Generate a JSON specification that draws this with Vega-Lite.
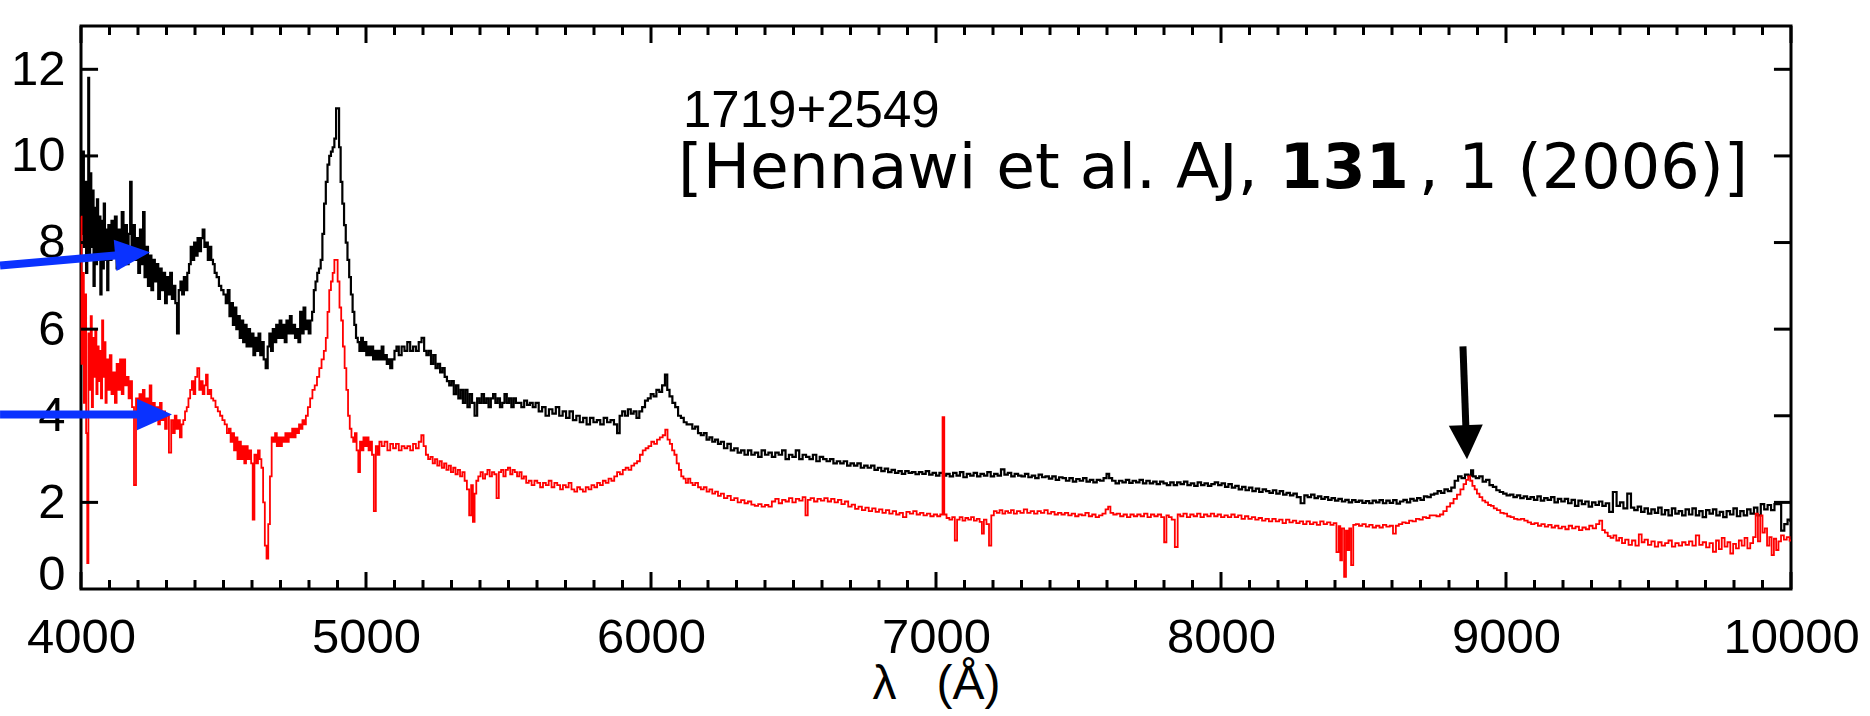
{
"$schema": "https://vega.github.io/schema/vega-lite/v6.json",
"width": 1710,
"height": 563,
"autosize": {"type": "none"},
"padding": {"left": 81, "top": 26, "right": 79, "bottom": 127},
"background": "white",
"config": {
  "view": {"stroke": "#000", "strokeWidth": 3},
  "axis": {"grid": false, "domain": false, "labelColor": "#000", "titleColor": "#000"}
},
"datasets": {
"xmajor": [{"lambda":4000},{"lambda":5000},{"lambda":6000},{"lambda":7000},{"lambda":8000},{"lambda":9000},{"lambda":10000}],
"xminor": [{"lambda":4100},{"lambda":4200},{"lambda":4300},{"lambda":4400},{"lambda":4500},{"lambda":4600},{"lambda":4700},{"lambda":4800},{"lambda":4900},{"lambda":5100},{"lambda":5200},{"lambda":5300},{"lambda":5400},{"lambda":5500},{"lambda":5600},{"lambda":5700},{"lambda":5800},{"lambda":5900},{"lambda":6100},{"lambda":6200},{"lambda":6300},{"lambda":6400},{"lambda":6500},{"lambda":6600},{"lambda":6700},{"lambda":6800},{"lambda":6900},{"lambda":7100},{"lambda":7200},{"lambda":7300},{"lambda":7400},{"lambda":7500},{"lambda":7600},{"lambda":7700},{"lambda":7800},{"lambda":7900},{"lambda":8100},{"lambda":8200},{"lambda":8300},{"lambda":8400},{"lambda":8500},{"lambda":8600},{"lambda":8700},{"lambda":8800},{"lambda":8900},{"lambda":9100},{"lambda":9200},{"lambda":9300},{"lambda":9400},{"lambda":9500},{"lambda":9600},{"lambda":9700},{"lambda":9800},{"lambda":9900}],
"ymajor": [{"flux":2},{"flux":4},{"flux":6},{"flux":8},{"flux":10},{"flux":12}],
"black": [
{"lambda":4000,"flux":9.8},{"lambda":4004,"flux":8.2},{"lambda":4008,"flux":10.1},{"lambda":4012,"flux":7.9},{"lambda":4016,"flux":9.4},{"lambda":4020,"flux":7.3},{"lambda":4024,"flux":9.0},{"lambda":4027,"flux":11.8},{"lambda":4030,"flux":7.6},{"lambda":4034,"flux":9.6},{"lambda":4038,"flux":7.9},{"lambda":4042,"flux":9.2},{"lambda":4046,"flux":7.0},{"lambda":4050,"flux":8.8},{"lambda":4054,"flux":7.5},{"lambda":4058,"flux":9.0},{"lambda":4062,"flux":7.7},{"lambda":4066,"flux":8.6},{"lambda":4070,"flux":6.8},{"lambda":4074,"flux":8.5},{"lambda":4078,"flux":7.4},{"lambda":4082,"flux":8.9},{"lambda":4086,"flux":7.6},{"lambda":4090,"flux":8.3},{"lambda":4094,"flux":6.9},{"lambda":4098,"flux":8.4},
{"lambda":4104,"flux":7.6},{"lambda":4110,"flux":8.5},{"lambda":4116,"flux":7.8},{"lambda":4122,"flux":8.6},{"lambda":4128,"flux":7.4},{"lambda":4134,"flux":8.3},{"lambda":4140,"flux":7.7},{"lambda":4146,"flux":8.7},{"lambda":4152,"flux":7.9},{"lambda":4158,"flux":8.4},{"lambda":4164,"flux":7.5},{"lambda":4170,"flux":8.2},{"lambda":4175,"flux":9.4},{"lambda":4180,"flux":7.8},{"lambda":4186,"flux":8.4},{"lambda":4192,"flux":7.6},{"lambda":4198,"flux":8.1},{"lambda":4204,"flux":7.3},{"lambda":4210,"flux":8.3},{"lambda":4216,"flux":7.5},{"lambda":4220,"flux":8.7},{"lambda":4226,"flux":7.2},{"lambda":4232,"flux":7.9},{"lambda":4238,"flux":7.0},{"lambda":4244,"flux":7.7},{"lambda":4250,"flux":6.9},{"lambda":4256,"flux":7.6},{"lambda":4262,"flux":7.1},{"lambda":4268,"flux":7.5},{"lambda":4274,"flux":6.7},{"lambda":4280,"flux":7.4},{"lambda":4286,"flux":6.9},{"lambda":4292,"flux":7.3},{"lambda":4298,"flux":6.6},{"lambda":4304,"flux":7.2},{"lambda":4310,"flux":6.8},{"lambda":4316,"flux":7.3},{"lambda":4322,"flux":6.7},{"lambda":4328,"flux":7.0},{"lambda":4334,"flux":6.6},{"lambda":4340,"flux":5.9},{"lambda":4346,"flux":6.9},{"lambda":4352,"flux":7.1},{"lambda":4358,"flux":6.8},{"lambda":4364,"flux":7.2},{"lambda":4370,"flux":6.9},{"lambda":4376,"flux":7.3},
{"lambda":4382,"flux":7.5},{"lambda":4388,"flux":7.9},{"lambda":4394,"flux":7.6},{"lambda":4400,"flux":8.0},{"lambda":4406,"flux":7.7},{"lambda":4412,"flux":8.1},{"lambda":4418,"flux":7.8},{"lambda":4424,"flux":8.1},{"lambda":4430,"flux":8.3},{"lambda":4436,"flux":7.9},{"lambda":4442,"flux":8.0},{"lambda":4448,"flux":7.6},{"lambda":4454,"flux":7.9},{"lambda":4460,"flux":7.6},{"lambda":4466,"flux":7.5},{"lambda":4472,"flux":7.3},{"lambda":4480,"flux":7.2},{"lambda":4488,"flux":7.0},{"lambda":4496,"flux":6.9},{"lambda":4504,"flux":6.8},{"lambda":4512,"flux":6.6},{"lambda":4518,"flux":6.9},{"lambda":4524,"flux":6.3},{"lambda":4530,"flux":6.6},{"lambda":4536,"flux":6.1},{"lambda":4542,"flux":6.5},{"lambda":4548,"flux":6.0},{"lambda":4554,"flux":6.3},{"lambda":4560,"flux":5.8},{"lambda":4566,"flux":6.2},{"lambda":4572,"flux":5.7},{"lambda":4578,"flux":6.1},{"lambda":4584,"flux":5.6},{"lambda":4590,"flux":6.0},{"lambda":4596,"flux":5.6},{"lambda":4602,"flux":5.9},{"lambda":4608,"flux":5.4},{"lambda":4614,"flux":5.8},{"lambda":4620,"flux":5.5},{"lambda":4626,"flux":5.9},{"lambda":4632,"flux":5.4},{"lambda":4638,"flux":5.7},{"lambda":4644,"flux":5.3},{"lambda":4652,"flux":5.1},{"lambda":4658,"flux":5.6},{"lambda":4664,"flux":5.9},{"lambda":4670,"flux":5.5},{"lambda":4676,"flux":6.0},{"lambda":4682,"flux":5.7},{"lambda":4688,"flux":6.1},{"lambda":4694,"flux":5.8},{"lambda":4700,"flux":6.2},{"lambda":4706,"flux":5.8},{"lambda":4712,"flux":6.1},{"lambda":4718,"flux":5.7},{"lambda":4724,"flux":6.2},{"lambda":4730,"flux":5.9},{"lambda":4736,"flux":6.3},{"lambda":4742,"flux":5.9},{"lambda":4748,"flux":6.1},{"lambda":4754,"flux":5.8},{"lambda":4760,"flux":6.0},{"lambda":4766,"flux":5.7},{"lambda":4772,"flux":6.4},{"lambda":4778,"flux":5.9},{"lambda":4784,"flux":6.5},{"lambda":4790,"flux":6.0},{"lambda":4796,"flux":6.2},{"lambda":4802,"flux":5.9},{"lambda":4808,"flux":6.2},{"lambda":4814,"flux":6.4},{"lambda":4820,"flux":6.9},{"lambda":4826,"flux":7.1},{"lambda":4832,"flux":7.3},{"lambda":4838,"flux":7.4},{"lambda":4844,"flux":7.6},{"lambda":4850,"flux":8.2},{"lambda":4856,"flux":8.9},{"lambda":4862,"flux":9.4},{"lambda":4868,"flux":9.8},{"lambda":4874,"flux":10.0},{"lambda":4880,"flux":10.1},{"lambda":4886,"flux":10.2},{"lambda":4892,"flux":10.4},{"lambda":4898,"flux":11.1},{"lambda":4903,"flux":11.1},{"lambda":4908,"flux":10.2},{"lambda":4914,"flux":9.4},{"lambda":4920,"flux":8.9},{"lambda":4926,"flux":8.4},{"lambda":4932,"flux":8.0},{"lambda":4938,"flux":7.6},{"lambda":4944,"flux":7.2},{"lambda":4950,"flux":6.8},{"lambda":4956,"flux":6.4},{"lambda":4962,"flux":6.1},{"lambda":4968,"flux":5.8},{"lambda":4974,"flux":5.7},{"lambda":4980,"flux":5.5},{"lambda":4986,"flux":5.8},{"lambda":4992,"flux":5.5},{"lambda":4998,"flux":5.7},{"lambda":5004,"flux":5.4},{"lambda":5010,"flux":5.6},{"lambda":5016,"flux":5.4},{"lambda":5022,"flux":5.6},{"lambda":5028,"flux":5.3},{"lambda":5034,"flux":5.5},{"lambda":5040,"flux":5.3},{"lambda":5046,"flux":5.5},{"lambda":5052,"flux":5.3},{"lambda":5058,"flux":5.6},{"lambda":5064,"flux":5.3},{"lambda":5070,"flux":5.4},{"lambda":5076,"flux":5.2},{"lambda":5082,"flux":5.3},{"lambda":5088,"flux":5.1},{"lambda":5096,"flux":5.3},
{"lambda":5104,"flux":5.5},{"lambda":5110,"flux":5.6},{"lambda":5120,"flux":5.4},{"lambda":5130,"flux":5.6},{"lambda":5140,"flux":5.5},{"lambda":5150,"flux":5.7},{"lambda":5160,"flux":5.5},{"lambda":5170,"flux":5.6},{"lambda":5180,"flux":5.5},{"lambda":5190,"flux":5.7},{"lambda":5200,"flux":5.8},{"lambda":5208,"flux":5.5},{"lambda":5216,"flux":5.4},{"lambda":5224,"flux":5.5},{"lambda":5232,"flux":5.2},{"lambda":5240,"flux":5.4},{"lambda":5248,"flux":5.1},{"lambda":5256,"flux":5.2},{"lambda":5264,"flux":5.0},{"lambda":5272,"flux":5.1},{"lambda":5280,"flux":4.9},{"lambda":5288,"flux":4.8},{"lambda":5296,"flux":4.7},{"lambda":5304,"flux":4.8},{"lambda":5312,"flux":4.5},{"lambda":5320,"flux":4.7},{"lambda":5328,"flux":4.4},{"lambda":5336,"flux":4.6},{"lambda":5344,"flux":4.3},{"lambda":5352,"flux":4.6},{"lambda":5360,"flux":4.2},{"lambda":5368,"flux":4.5},{"lambda":5376,"flux":4.3},{"lambda":5386,"flux":4.0},{"lambda":5394,"flux":4.4},{"lambda":5402,"flux":4.3},{"lambda":5410,"flux":4.5},{"lambda":5418,"flux":4.3},{"lambda":5426,"flux":4.4},{"lambda":5434,"flux":4.2},{"lambda":5442,"flux":4.4},{"lambda":5450,"flux":4.5},{"lambda":5458,"flux":4.3},{"lambda":5466,"flux":4.4},{"lambda":5474,"flux":4.2},{"lambda":5482,"flux":4.3},{"lambda":5490,"flux":4.5},{"lambda":5498,"flux":4.3},{"lambda":5506,"flux":4.4},{"lambda":5514,"flux":4.2},{"lambda":5522,"flux":4.4},{"lambda":5530,"flux":4.3},{"lambda":5540,"flux":4.3},{"lambda":5550,"flux":4.2},{"lambda":5560,"flux":4.35},{"lambda":5570,"flux":4.25},{"lambda":5580,"flux":4.3},{"lambda":5590,"flux":4.2},{"lambda":5600,"flux":4.3},{"lambda":5612,"flux":4.1},{"lambda":5624,"flux":4.2},{"lambda":5636,"flux":4.0},{"lambda":5648,"flux":4.15},{"lambda":5660,"flux":4.05},{"lambda":5672,"flux":4.2},{"lambda":5684,"flux":4.0},{"lambda":5696,"flux":4.1},{"lambda":5708,"flux":3.95},{"lambda":5720,"flux":4.1},{"lambda":5732,"flux":3.9},{"lambda":5744,"flux":4.0},{"lambda":5756,"flux":3.85},{"lambda":5768,"flux":3.95},{"lambda":5780,"flux":3.8},{"lambda":5792,"flux":3.95},{"lambda":5804,"flux":3.85},{"lambda":5816,"flux":3.9},{"lambda":5828,"flux":3.8},{"lambda":5840,"flux":3.95},{"lambda":5852,"flux":3.85},{"lambda":5864,"flux":3.9},{"lambda":5876,"flux":3.8},{"lambda":5886,"flux":3.6},{"lambda":5894,"flux":4.0},{"lambda":5904,"flux":4.1},{"lambda":5914,"flux":4.0},{"lambda":5924,"flux":4.15},{"lambda":5934,"flux":4.05},{"lambda":5944,"flux":4.1},{"lambda":5954,"flux":3.95},{"lambda":5964,"flux":4.1},{"lambda":5974,"flux":4.2},{"lambda":5984,"flux":4.35},{"lambda":5994,"flux":4.4},{"lambda":6004,"flux":4.5},{"lambda":6014,"flux":4.45},{"lambda":6024,"flux":4.6},{"lambda":6034,"flux":4.55},{"lambda":6044,"flux":4.7},{"lambda":6054,"flux":4.95},{"lambda":6060,"flux":4.6},{"lambda":6070,"flux":4.45},{"lambda":6080,"flux":4.3},{"lambda":6090,"flux":4.2},{"lambda":6100,"flux":4.0},{"lambda":6110,"flux":3.95},{"lambda":6120,"flux":3.85},{"lambda":6130,"flux":3.8},{"lambda":6140,"flux":3.8},
{"lambda":6150,"flux":3.7},{"lambda":6160,"flux":3.75},{"lambda":6170,"flux":3.6},{"lambda":6180,"flux":3.55},{"lambda":6190,"flux":3.6},{"lambda":6200,"flux":3.45},{"lambda":6210,"flux":3.5},{"lambda":6220,"flux":3.4},{"lambda":6230,"flux":3.45},{"lambda":6240,"flux":3.35},{"lambda":6250,"flux":3.4},{"lambda":6262,"flux":3.25},{"lambda":6274,"flux":3.35},{"lambda":6286,"flux":3.2},{"lambda":6298,"flux":3.25},{"lambda":6310,"flux":3.15},{"lambda":6322,"flux":3.2},{"lambda":6334,"flux":3.1},{"lambda":6346,"flux":3.2},{"lambda":6358,"flux":3.1},{"lambda":6370,"flux":3.15},{"lambda":6382,"flux":3.05},{"lambda":6394,"flux":3.2},{"lambda":6406,"flux":3.1},{"lambda":6418,"flux":3.15},{"lambda":6430,"flux":3.05},{"lambda":6442,"flux":3.15},{"lambda":6454,"flux":3.1},{"lambda":6466,"flux":3.2},{"lambda":6478,"flux":3.0},{"lambda":6490,"flux":3.1},{"lambda":6502,"flux":3.05},{"lambda":6514,"flux":3.2},{"lambda":6526,"flux":3.0},{"lambda":6538,"flux":3.1},{"lambda":6550,"flux":3.05},{"lambda":6562,"flux":3.0},{"lambda":6574,"flux":3.1},{"lambda":6586,"flux":2.95},{"lambda":6598,"flux":3.05},{"lambda":6610,"flux":3.0},{"lambda":6622,"flux":2.95},{"lambda":6634,"flux":3.0},{"lambda":6646,"flux":2.9},{"lambda":6658,"flux":2.95},{"lambda":6670,"flux":2.9},{"lambda":6682,"flux":2.95},{"lambda":6694,"flux":2.85},{"lambda":6706,"flux":2.9},{"lambda":6718,"flux":2.85},{"lambda":6730,"flux":2.9},{"lambda":6742,"flux":2.8},{"lambda":6754,"flux":2.85},{"lambda":6766,"flux":2.8},{"lambda":6778,"flux":2.85},{"lambda":6790,"flux":2.75},{"lambda":6802,"flux":2.8},{"lambda":6814,"flux":2.72},{"lambda":6826,"flux":2.78},{"lambda":6838,"flux":2.7},{"lambda":6850,"flux":2.75},{"lambda":6862,"flux":2.68},{"lambda":6874,"flux":2.72},{"lambda":6886,"flux":2.66},{"lambda":6898,"flux":2.72},{"lambda":6910,"flux":2.68},{"lambda":6922,"flux":2.7},{"lambda":6934,"flux":2.65},{"lambda":6946,"flux":2.7},{"lambda":6958,"flux":2.66},{"lambda":6970,"flux":2.72},{"lambda":6982,"flux":2.64},{"lambda":6994,"flux":2.68},{"lambda":7006,"flux":2.62},{"lambda":7018,"flux":2.68},{"lambda":7030,"flux":2.62},{"lambda":7042,"flux":2.66},{"lambda":7054,"flux":2.6},{"lambda":7066,"flux":2.68},{"lambda":7078,"flux":2.62},{"lambda":7090,"flux":2.7},{"lambda":7102,"flux":2.58},{"lambda":7114,"flux":2.66},{"lambda":7126,"flux":2.62},{"lambda":7138,"flux":2.68},{"lambda":7150,"flux":2.6},{"lambda":7162,"flux":2.66},{"lambda":7174,"flux":2.62},{"lambda":7186,"flux":2.7},{"lambda":7198,"flux":2.6},{"lambda":7210,"flux":2.66},{"lambda":7222,"flux":2.62},{"lambda":7234,"flux":2.76},{"lambda":7246,"flux":2.64},{"lambda":7258,"flux":2.68},{"lambda":7270,"flux":2.6},{"lambda":7282,"flux":2.66},{"lambda":7294,"flux":2.62},{"lambda":7306,"flux":2.6},{"lambda":7318,"flux":2.66},{"lambda":7330,"flux":2.58},{"lambda":7342,"flux":2.62},{"lambda":7354,"flux":2.56},{"lambda":7366,"flux":2.64},{"lambda":7378,"flux":2.58},{"lambda":7390,"flux":2.6},{"lambda":7402,"flux":2.55},{"lambda":7414,"flux":2.6},{"lambda":7426,"flux":2.52},{"lambda":7438,"flux":2.58},
{"lambda":7450,"flux":2.56},{"lambda":7462,"flux":2.5},{"lambda":7474,"flux":2.56},{"lambda":7486,"flux":2.48},{"lambda":7498,"flux":2.54},{"lambda":7510,"flux":2.5},{"lambda":7522,"flux":2.56},{"lambda":7534,"flux":2.48},{"lambda":7546,"flux":2.52},{"lambda":7558,"flux":2.46},{"lambda":7570,"flux":2.52},{"lambda":7582,"flux":2.5},{"lambda":7594,"flux":2.56},{"lambda":7603,"flux":2.66},{"lambda":7612,"flux":2.56},{"lambda":7624,"flux":2.5},{"lambda":7636,"flux":2.44},{"lambda":7648,"flux":2.5},{"lambda":7660,"flux":2.46},{"lambda":7672,"flux":2.52},{"lambda":7684,"flux":2.45},{"lambda":7696,"flux":2.5},{"lambda":7708,"flux":2.46},{"lambda":7720,"flux":2.52},{"lambda":7732,"flux":2.44},{"lambda":7744,"flux":2.5},{"lambda":7756,"flux":2.44},{"lambda":7768,"flux":2.48},{"lambda":7780,"flux":2.42},{"lambda":7792,"flux":2.48},{"lambda":7804,"flux":2.44},{"lambda":7816,"flux":2.4},{"lambda":7828,"flux":2.46},{"lambda":7840,"flux":2.4},{"lambda":7852,"flux":2.46},{"lambda":7864,"flux":2.42},{"lambda":7876,"flux":2.48},{"lambda":7888,"flux":2.4},{"lambda":7900,"flux":2.44},{"lambda":7912,"flux":2.38},{"lambda":7924,"flux":2.46},{"lambda":7936,"flux":2.4},{"lambda":7948,"flux":2.44},{"lambda":7960,"flux":2.38},{"lambda":7972,"flux":2.42},{"lambda":7984,"flux":2.46},{"lambda":7996,"flux":2.4},{"lambda":8008,"flux":2.44},{"lambda":8020,"flux":2.36},{"lambda":8032,"flux":2.42},{"lambda":8044,"flux":2.34},{"lambda":8056,"flux":2.38},{"lambda":8068,"flux":2.3},{"lambda":8080,"flux":2.36},{"lambda":8092,"flux":2.28},{"lambda":8104,"flux":2.34},{"lambda":8116,"flux":2.26},{"lambda":8128,"flux":2.32},{"lambda":8140,"flux":2.24},{"lambda":8152,"flux":2.3},{"lambda":8164,"flux":2.26},{"lambda":8176,"flux":2.22},{"lambda":8188,"flux":2.28},{"lambda":8200,"flux":2.2},{"lambda":8212,"flux":2.26},{"lambda":8224,"flux":2.18},{"lambda":8236,"flux":2.22},{"lambda":8248,"flux":2.16},{"lambda":8260,"flux":2.2},{"lambda":8272,"flux":2.12},{"lambda":8287,"flux":1.98},{"lambda":8298,"flux":2.16},{"lambda":8310,"flux":2.12},{"lambda":8322,"flux":2.18},{"lambda":8334,"flux":2.1},{"lambda":8346,"flux":2.14},{"lambda":8358,"flux":2.08},{"lambda":8370,"flux":2.12},{"lambda":8382,"flux":2.06},{"lambda":8394,"flux":2.1},{"lambda":8406,"flux":2.04},{"lambda":8418,"flux":2.08},{"lambda":8430,"flux":2.02},{"lambda":8442,"flux":2.06},{"lambda":8454,"flux":2.0},{"lambda":8466,"flux":2.05},{"lambda":8478,"flux":2.01},{"lambda":8490,"flux":2.04},{"lambda":8502,"flux":1.99},{"lambda":8514,"flux":2.03},{"lambda":8526,"flux":1.98},{"lambda":8538,"flux":2.04},{"lambda":8550,"flux":2.0},{"lambda":8562,"flux":2.05},{"lambda":8574,"flux":1.98},{"lambda":8586,"flux":2.04},{"lambda":8598,"flux":1.99},{"lambda":8610,"flux":2.05},{"lambda":8622,"flux":1.97},{"lambda":8634,"flux":2.02},{"lambda":8646,"flux":2.06},{"lambda":8658,"flux":2.0},{"lambda":8670,"flux":2.08},{"lambda":8682,"flux":2.04},{"lambda":8694,"flux":2.1},{"lambda":8706,"flux":2.06},{"lambda":8718,"flux":2.14},{"lambda":8730,"flux":2.12},{"lambda":8742,"flux":2.18},
{"lambda":8754,"flux":2.2},{"lambda":8766,"flux":2.26},{"lambda":8778,"flux":2.22},{"lambda":8790,"flux":2.3},{"lambda":8802,"flux":2.26},{"lambda":8814,"flux":2.34},{"lambda":8826,"flux":2.5},{"lambda":8838,"flux":2.6},{"lambda":8850,"flux":2.56},{"lambda":8862,"flux":2.64},{"lambda":8874,"flux":2.62},{"lambda":8881,"flux":2.74},{"lambda":8888,"flux":2.6},{"lambda":8900,"flux":2.56},{"lambda":8912,"flux":2.6},{"lambda":8924,"flux":2.48},{"lambda":8936,"flux":2.52},{"lambda":8948,"flux":2.4},{"lambda":8960,"flux":2.36},{"lambda":8972,"flux":2.28},{"lambda":8984,"flux":2.24},{"lambda":8996,"flux":2.2},{"lambda":9008,"flux":2.16},{"lambda":9020,"flux":2.18},{"lambda":9032,"flux":2.12},{"lambda":9044,"flux":2.16},{"lambda":9056,"flux":2.1},{"lambda":9068,"flux":2.14},{"lambda":9080,"flux":2.08},{"lambda":9092,"flux":2.12},{"lambda":9104,"flux":2.06},{"lambda":9116,"flux":2.14},{"lambda":9128,"flux":2.04},{"lambda":9140,"flux":2.1},{"lambda":9152,"flux":2.06},{"lambda":9164,"flux":2.12},{"lambda":9176,"flux":2.0},{"lambda":9188,"flux":2.08},{"lambda":9200,"flux":2.02},{"lambda":9212,"flux":2.08},{"lambda":9224,"flux":1.98},{"lambda":9236,"flux":2.06},{"lambda":9248,"flux":1.92},{"lambda":9260,"flux":2.04},{"lambda":9272,"flux":1.96},{"lambda":9284,"flux":2.02},{"lambda":9296,"flux":1.9},{"lambda":9308,"flux":2.0},{"lambda":9320,"flux":1.94},{"lambda":9332,"flux":2.02},{"lambda":9344,"flux":1.92},{"lambda":9356,"flux":1.98},{"lambda":9368,"flux":1.78},{"lambda":9382,"flux":2.24},{"lambda":9394,"flux":1.92},{"lambda":9406,"flux":2.0},{"lambda":9418,"flux":1.86},{"lambda":9433,"flux":2.2},{"lambda":9444,"flux":1.88},{"lambda":9456,"flux":1.82},{"lambda":9468,"flux":1.9},{"lambda":9480,"flux":1.78},{"lambda":9492,"flux":1.86},{"lambda":9504,"flux":1.74},{"lambda":9516,"flux":1.84},{"lambda":9528,"flux":1.76},{"lambda":9540,"flux":1.88},{"lambda":9552,"flux":1.72},{"lambda":9564,"flux":1.82},{"lambda":9576,"flux":1.7},{"lambda":9588,"flux":1.86},{"lambda":9600,"flux":1.74},{"lambda":9612,"flux":1.8},{"lambda":9624,"flux":1.7},{"lambda":9636,"flux":1.84},{"lambda":9648,"flux":1.72},{"lambda":9660,"flux":1.86},{"lambda":9672,"flux":1.7},{"lambda":9684,"flux":1.8},{"lambda":9696,"flux":1.66},{"lambda":9708,"flux":1.82},{"lambda":9720,"flux":1.74},{"lambda":9732,"flux":1.84},{"lambda":9744,"flux":1.7},{"lambda":9756,"flux":1.78},{"lambda":9768,"flux":1.66},{"lambda":9780,"flux":1.8},{"lambda":9792,"flux":1.72},{"lambda":9804,"flux":1.86},{"lambda":9816,"flux":1.68},{"lambda":9828,"flux":1.8},{"lambda":9840,"flux":1.7},{"lambda":9852,"flux":1.84},{"lambda":9864,"flux":1.74},{"lambda":9876,"flux":1.88},{"lambda":9888,"flux":1.7},{"lambda":9900,"flux":1.96},{"lambda":9912,"flux":1.84},{"lambda":9924,"flux":1.94},{"lambda":9936,"flux":1.82},{"lambda":9948,"flux":1.96},{"lambda":9960,"flux":1.96},{"lambda":9971,"flux":1.35},{"lambda":9982,"flux":1.5},{"lambda":9994,"flux":1.6},{"lambda":10000,"flux":1.58}
],
"red": [
{"lambda":4000,"flux":8.6},{"lambda":4004,"flux":5.2},{"lambda":4008,"flux":7.3},{"lambda":4012,"flux":4.3},{"lambda":4016,"flux":6.8},{"lambda":4020,"flux":3.6},{"lambda":4024,"flux":0.6},{"lambda":4028,"flux":5.9},{"lambda":4032,"flux":4.6},{"lambda":4036,"flux":6.3},{"lambda":4040,"flux":4.2},{"lambda":4044,"flux":5.8},{"lambda":4048,"flux":4.9},{"lambda":4052,"flux":6.0},{"lambda":4056,"flux":4.5},{"lambda":4060,"flux":5.6},{"lambda":4064,"flux":4.8},{"lambda":4068,"flux":5.5},{"lambda":4072,"flux":4.4},{"lambda":4076,"flux":6.2},{"lambda":4080,"flux":4.9},{"lambda":4084,"flux":5.7},{"lambda":4088,"flux":4.3},{"lambda":4092,"flux":5.3},{"lambda":4098,"flux":4.6},{"lambda":4104,"flux":5.4},{"lambda":4110,"flux":4.5},{"lambda":4116,"flux":5.0},{"lambda":4122,"flux":4.3},{"lambda":4128,"flux":5.2},{"lambda":4134,"flux":4.6},{"lambda":4140,"flux":5.3},{"lambda":4146,"flux":4.5},{"lambda":4152,"flux":5.3},{"lambda":4158,"flux":4.7},{"lambda":4164,"flux":4.9},{"lambda":4170,"flux":4.4},{"lambda":4176,"flux":4.8},{"lambda":4182,"flux":4.2},{"lambda":4190,"flux":2.4},{"lambda":4196,"flux":4.4},{"lambda":4202,"flux":4.0},{"lambda":4208,"flux":4.5},{"lambda":4214,"flux":4.1},{"lambda":4220,"flux":4.6},{"lambda":4226,"flux":4.0},{"lambda":4232,"flux":4.4},{"lambda":4238,"flux":4.2},{"lambda":4244,"flux":4.7},{"lambda":4250,"flux":4.0},{"lambda":4256,"flux":4.3},{"lambda":4262,"flux":3.9},{"lambda":4268,"flux":4.2},{"lambda":4274,"flux":3.8},{"lambda":4280,"flux":4.3},{"lambda":4286,"flux":3.9},{"lambda":4292,"flux":4.1},{"lambda":4298,"flux":3.7},{"lambda":4304,"flux":4.0},{"lambda":4313,"flux":3.15},{"lambda":4320,"flux":3.9},{"lambda":4326,"flux":3.6},{"lambda":4332,"flux":4.0},{"lambda":4338,"flux":3.7},{"lambda":4344,"flux":3.9},{"lambda":4350,"flux":3.5},{"lambda":4356,"flux":3.8},{"lambda":4362,"flux":3.9},{"lambda":4368,"flux":4.1},{"lambda":4374,"flux":4.2},{"lambda":4380,"flux":4.4},{"lambda":4386,"flux":4.6},{"lambda":4392,"flux":4.8},{"lambda":4398,"flux":4.5},{"lambda":4404,"flux":4.9},{"lambda":4412,"flux":5.1},{"lambda":4418,"flux":4.6},{"lambda":4424,"flux":4.8},{"lambda":4430,"flux":4.5},{"lambda":4436,"flux":4.7},{"lambda":4441,"flux":4.95},{"lambda":4448,"flux":4.5},{"lambda":4454,"flux":4.6},{"lambda":4460,"flux":4.4},{"lambda":4468,"flux":4.35},{"lambda":4476,"flux":4.2},{"lambda":4484,"flux":4.1},{"lambda":4492,"flux":4.0},{"lambda":4500,"flux":3.9},{"lambda":4508,"flux":3.8},{"lambda":4516,"flux":3.6},{"lambda":4522,"flux":3.7},{"lambda":4528,"flux":3.4},{"lambda":4534,"flux":3.6},{"lambda":4540,"flux":3.2},{"lambda":4546,"flux":3.5},{"lambda":4552,"flux":3.0},{"lambda":4558,"flux":3.4},{"lambda":4564,"flux":3.0},{"lambda":4570,"flux":3.3},{"lambda":4576,"flux":2.9},{"lambda":4582,"flux":3.3},{"lambda":4588,"flux":3.0},{"lambda":4594,"flux":3.2},{"lambda":4600,"flux":2.9},{"lambda":4605,"flux":1.6},{"lambda":4612,"flux":3.1},{"lambda":4618,"flux":2.9},{"lambda":4624,"flux":3.2},{"lambda":4630,"flux":3.0},{"lambda":4636,"flux":2.8},{"lambda":4642,"flux":2.0},{"lambda":4648,"flux":1.0},{"lambda":4654,"flux":0.7},{"lambda":4660,"flux":1.5},{"lambda":4666,"flux":2.6},{"lambda":4672,"flux":3.5},{"lambda":4678,"flux":3.4},{"lambda":4684,"flux":3.6},{"lambda":4690,"flux":3.3},{"lambda":4696,"flux":3.5},{"lambda":4702,"flux":3.3},{"lambda":4708,"flux":3.5},{"lambda":4714,"flux":3.4},{"lambda":4720,"flux":3.6},{"lambda":4726,"flux":3.4},{"lambda":4732,"flux":3.6},{"lambda":4738,"flux":3.5},{"lambda":4744,"flux":3.7},{"lambda":4750,"flux":3.5},{"lambda":4756,"flux":3.7},{"lambda":4762,"flux":3.6},{"lambda":4768,"flux":3.8},{"lambda":4774,"flux":3.7},{"lambda":4780,"flux":3.9},{"lambda":4786,"flux":3.8},{"lambda":4792,"flux":4.0},{"lambda":4800,"flux":4.2},{"lambda":4808,"flux":4.4},{"lambda":4816,"flux":4.6},{"lambda":4824,"flux":4.7},{"lambda":4832,"flux":4.9},{"lambda":4840,"flux":5.1},{"lambda":4848,"flux":5.3},{"lambda":4856,"flux":5.5},{"lambda":4862,"flux":5.8},{"lambda":4868,"flux":6.4},{"lambda":4874,"flux":6.9},{"lambda":4880,"flux":7.1},{"lambda":4886,"flux":7.3},{"lambda":4892,"flux":7.6},{"lambda":4897,"flux":7.6},{"lambda":4904,"flux":7.1},{"lambda":4910,"flux":6.5},{"lambda":4916,"flux":6.2},{"lambda":4922,"flux":5.6},{"lambda":4928,"flux":5.1},{"lambda":4934,"flux":4.6},{"lambda":4940,"flux":4.0},{"lambda":4946,"flux":3.7},{"lambda":4952,"flux":3.5},{"lambda":4958,"flux":3.4},{"lambda":4964,"flux":3.6},{"lambda":4970,"flux":3.2},{"lambda":4976,"flux":2.7},{"lambda":4982,"flux":3.4},{"lambda":4988,"flux":3.2},{"lambda":4994,"flux":3.5},{"lambda":5000,"flux":3.3},{"lambda":5006,"flux":3.5},{"lambda":5012,"flux":3.2},{"lambda":5018,"flux":3.4},{"lambda":5024,"flux":3.1},{"lambda":5031,"flux":1.8},{"lambda":5038,"flux":3.3},{"lambda":5044,"flux":3.1},{"lambda":5050,"flux":3.4},
{"lambda":5060,"flux":3.3},{"lambda":5070,"flux":3.4},{"lambda":5080,"flux":3.2},{"lambda":5090,"flux":3.35},{"lambda":5100,"flux":3.25},{"lambda":5110,"flux":3.35},{"lambda":5120,"flux":3.2},{"lambda":5130,"flux":3.3},{"lambda":5140,"flux":3.25},{"lambda":5150,"flux":3.3},{"lambda":5160,"flux":3.2},{"lambda":5170,"flux":3.35},{"lambda":5180,"flux":3.25},{"lambda":5190,"flux":3.4},{"lambda":5198,"flux":3.55},{"lambda":5206,"flux":3.3},{"lambda":5214,"flux":3.1},{"lambda":5222,"flux":3.0},{"lambda":5230,"flux":3.05},{"lambda":5238,"flux":2.9},{"lambda":5246,"flux":3.0},{"lambda":5254,"flux":2.85},{"lambda":5262,"flux":2.95},{"lambda":5270,"flux":2.8},{"lambda":5278,"flux":2.9},{"lambda":5286,"flux":2.75},{"lambda":5294,"flux":2.85},{"lambda":5302,"flux":2.7},{"lambda":5310,"flux":2.8},{"lambda":5318,"flux":2.65},{"lambda":5326,"flux":2.75},{"lambda":5334,"flux":2.6},{"lambda":5342,"flux":2.7},{"lambda":5350,"flux":2.5},{"lambda":5358,"flux":2.3},{"lambda":5366,"flux":1.7},{"lambda":5372,"flux":2.4},{"lambda":5378,"flux":1.55},{"lambda":5384,"flux":2.2},{"lambda":5390,"flux":2.5},{"lambda":5398,"flux":2.6},{"lambda":5406,"flux":2.7},{"lambda":5414,"flux":2.55},{"lambda":5422,"flux":2.65},{"lambda":5430,"flux":2.75},{"lambda":5438,"flux":2.6},{"lambda":5446,"flux":2.7},{"lambda":5454,"flux":2.65},{"lambda":5462,"flux":2.1},{"lambda":5470,"flux":2.7},{"lambda":5478,"flux":2.75},{"lambda":5486,"flux":2.6},{"lambda":5494,"flux":2.75},{"lambda":5502,"flux":2.8},{"lambda":5510,"flux":2.65},{"lambda":5518,"flux":2.75},{"lambda":5526,"flux":2.7},{"lambda":5534,"flux":2.6},{"lambda":5542,"flux":2.7},{"lambda":5550,"flux":2.55},{"lambda":5558,"flux":2.6},{"lambda":5566,"flux":2.45},{"lambda":5576,"flux":2.5},{"lambda":5586,"flux":2.4},{"lambda":5596,"flux":2.5},{"lambda":5606,"flux":2.45},{"lambda":5616,"flux":2.35},{"lambda":5626,"flux":2.45},{"lambda":5636,"flux":2.4},{"lambda":5646,"flux":2.5},{"lambda":5656,"flux":2.35},{"lambda":5666,"flux":2.45},{"lambda":5676,"flux":2.4},{"lambda":5686,"flux":2.3},{"lambda":5696,"flux":2.4},{"lambda":5706,"flux":2.35},{"lambda":5716,"flux":2.45},{"lambda":5726,"flux":2.3},{"lambda":5736,"flux":2.25},{"lambda":5746,"flux":2.35},{"lambda":5756,"flux":2.3},{"lambda":5766,"flux":2.25},{"lambda":5776,"flux":2.35},{"lambda":5786,"flux":2.3},{"lambda":5796,"flux":2.4},{"lambda":5806,"flux":2.35},{"lambda":5816,"flux":2.45},{"lambda":5826,"flux":2.4},{"lambda":5836,"flux":2.5},{"lambda":5846,"flux":2.45},{"lambda":5856,"flux":2.55},{"lambda":5866,"flux":2.5},{"lambda":5876,"flux":2.6},{"lambda":5886,"flux":2.7},{"lambda":5896,"flux":2.65},{"lambda":5906,"flux":2.75},{"lambda":5916,"flux":2.8},{"lambda":5926,"flux":2.75},{"lambda":5936,"flux":2.85},{"lambda":5946,"flux":2.9},{"lambda":5956,"flux":2.95},{"lambda":5966,"flux":3.1},{"lambda":5976,"flux":3.2},{"lambda":5986,"flux":3.25},{"lambda":5996,"flux":3.3},{"lambda":6006,"flux":3.4},{"lambda":6016,"flux":3.35},{"lambda":6026,"flux":3.45},{"lambda":6036,"flux":3.5},{"lambda":6046,"flux":3.55},{"lambda":6054,"flux":3.68},{"lambda":6062,"flux":3.45},{"lambda":6070,"flux":3.35},{"lambda":6078,"flux":3.2},{"lambda":6086,"flux":3.1},{"lambda":6094,"flux":2.9},{"lambda":6102,"flux":2.75},{"lambda":6110,"flux":2.6},{"lambda":6118,"flux":2.55},{"lambda":6126,"flux":2.45},{"lambda":6134,"flux":2.55},{"lambda":6142,"flux":2.45},{"lambda":6150,"flux":2.4},{"lambda":6160,"flux":2.45},
{"lambda":6170,"flux":2.35},{"lambda":6180,"flux":2.3},{"lambda":6190,"flux":2.35},{"lambda":6200,"flux":2.25},{"lambda":6210,"flux":2.3},{"lambda":6220,"flux":2.2},{"lambda":6230,"flux":2.25},{"lambda":6240,"flux":2.15},{"lambda":6250,"flux":2.2},{"lambda":6262,"flux":2.1},{"lambda":6274,"flux":2.15},{"lambda":6286,"flux":2.05},{"lambda":6298,"flux":2.1},{"lambda":6310,"flux":2.0},{"lambda":6322,"flux":2.05},{"lambda":6334,"flux":1.98},{"lambda":6346,"flux":2.02},{"lambda":6358,"flux":1.95},{"lambda":6370,"flux":1.92},{"lambda":6382,"flux":1.96},{"lambda":6394,"flux":1.9},{"lambda":6406,"flux":1.94},{"lambda":6418,"flux":1.9},{"lambda":6430,"flux":2.02},{"lambda":6442,"flux":2.08},{"lambda":6454,"flux":1.98},{"lambda":6466,"flux":2.06},{"lambda":6478,"flux":2.02},{"lambda":6490,"flux":2.1},{"lambda":6502,"flux":2.0},{"lambda":6514,"flux":2.08},{"lambda":6526,"flux":2.04},{"lambda":6538,"flux":2.12},{"lambda":6546,"flux":1.7},{"lambda":6554,"flux":2.06},{"lambda":6566,"flux":2.1},{"lambda":6578,"flux":2.02},{"lambda":6590,"flux":2.08},{"lambda":6602,"flux":2.04},{"lambda":6614,"flux":2.1},{"lambda":6626,"flux":2.02},{"lambda":6638,"flux":2.08},{"lambda":6650,"flux":2.0},{"lambda":6662,"flux":2.06},{"lambda":6674,"flux":1.96},{"lambda":6686,"flux":2.02},{"lambda":6698,"flux":1.9},{"lambda":6710,"flux":1.95},{"lambda":6722,"flux":1.85},{"lambda":6734,"flux":1.9},{"lambda":6746,"flux":1.82},{"lambda":6758,"flux":1.88},{"lambda":6770,"flux":1.8},{"lambda":6782,"flux":1.86},{"lambda":6794,"flux":1.78},{"lambda":6806,"flux":1.84},{"lambda":6818,"flux":1.76},{"lambda":6830,"flux":1.82},{"lambda":6842,"flux":1.74},{"lambda":6854,"flux":1.8},{"lambda":6866,"flux":1.72},{"lambda":6878,"flux":1.76},{"lambda":6890,"flux":1.66},{"lambda":6902,"flux":1.78},{"lambda":6914,"flux":1.74},{"lambda":6926,"flux":1.8},{"lambda":6938,"flux":1.72},{"lambda":6950,"flux":1.76},{"lambda":6962,"flux":1.7},{"lambda":6974,"flux":1.74},{"lambda":6986,"flux":1.68},{"lambda":6998,"flux":1.72},{"lambda":7010,"flux":1.68},{"lambda":7020,"flux":1.72},{"lambda":7026,"flux":3.97},{"lambda":7032,"flux":1.72},{"lambda":7042,"flux":1.64},{"lambda":7052,"flux":1.6},{"lambda":7062,"flux":1.66},{"lambda":7070,"flux":1.12},{"lambda":7078,"flux":1.6},{"lambda":7088,"flux":1.66},{"lambda":7098,"flux":1.58},{"lambda":7108,"flux":1.64},{"lambda":7118,"flux":1.6},{"lambda":7128,"flux":1.66},{"lambda":7138,"flux":1.58},{"lambda":7148,"flux":1.62},{"lambda":7158,"flux":1.55},{"lambda":7164,"flux":1.28},{"lambda":7172,"flux":1.6},{"lambda":7182,"flux":1.5},{"lambda":7190,"flux":1.0},{"lambda":7198,"flux":1.7},{"lambda":7208,"flux":1.8},{"lambda":7218,"flux":1.76},{"lambda":7228,"flux":1.82},{"lambda":7238,"flux":1.74},{"lambda":7248,"flux":1.8},{"lambda":7258,"flux":1.76},{"lambda":7268,"flux":1.82},{"lambda":7278,"flux":1.74},{"lambda":7290,"flux":1.8},{"lambda":7302,"flux":1.76},{"lambda":7314,"flux":1.84},{"lambda":7326,"flux":1.76},{"lambda":7338,"flux":1.8},{"lambda":7350,"flux":1.74},{"lambda":7362,"flux":1.8},{"lambda":7374,"flux":1.76},{"lambda":7386,"flux":1.82},{"lambda":7398,"flux":1.74},{"lambda":7410,"flux":1.78},{"lambda":7422,"flux":1.72},{"lambda":7434,"flux":1.76},
{"lambda":7446,"flux":1.72},{"lambda":7458,"flux":1.76},{"lambda":7470,"flux":1.7},{"lambda":7482,"flux":1.74},{"lambda":7494,"flux":1.68},{"lambda":7506,"flux":1.72},{"lambda":7518,"flux":1.7},{"lambda":7530,"flux":1.76},{"lambda":7542,"flux":1.68},{"lambda":7554,"flux":1.72},{"lambda":7566,"flux":1.66},{"lambda":7578,"flux":1.7},{"lambda":7590,"flux":1.74},{"lambda":7600,"flux":1.84},{"lambda":7608,"flux":1.9},{"lambda":7616,"flux":1.76},{"lambda":7628,"flux":1.72},{"lambda":7640,"flux":1.74},{"lambda":7652,"flux":1.68},{"lambda":7664,"flux":1.72},{"lambda":7676,"flux":1.66},{"lambda":7688,"flux":1.72},{"lambda":7700,"flux":1.68},{"lambda":7712,"flux":1.72},{"lambda":7724,"flux":1.68},{"lambda":7736,"flux":1.74},{"lambda":7748,"flux":1.66},{"lambda":7760,"flux":1.72},{"lambda":7772,"flux":1.68},{"lambda":7784,"flux":1.72},{"lambda":7796,"flux":1.66},{"lambda":7805,"flux":1.08},{"lambda":7812,"flux":1.7},{"lambda":7822,"flux":1.66},{"lambda":7832,"flux":1.6},{"lambda":7844,"flux":0.97},{"lambda":7852,"flux":1.72},{"lambda":7862,"flux":1.68},{"lambda":7874,"flux":1.74},{"lambda":7886,"flux":1.66},{"lambda":7898,"flux":1.72},{"lambda":7910,"flux":1.68},{"lambda":7922,"flux":1.74},{"lambda":7934,"flux":1.66},{"lambda":7946,"flux":1.72},{"lambda":7958,"flux":1.68},{"lambda":7970,"flux":1.74},{"lambda":7982,"flux":1.68},{"lambda":7994,"flux":1.72},{"lambda":8006,"flux":1.66},{"lambda":8018,"flux":1.7},{"lambda":8030,"flux":1.66},{"lambda":8042,"flux":1.72},{"lambda":8054,"flux":1.66},{"lambda":8066,"flux":1.7},{"lambda":8078,"flux":1.62},{"lambda":8090,"flux":1.68},{"lambda":8102,"flux":1.62},{"lambda":8114,"flux":1.66},{"lambda":8126,"flux":1.6},{"lambda":8138,"flux":1.64},{"lambda":8150,"flux":1.58},{"lambda":8162,"flux":1.62},{"lambda":8174,"flux":1.56},{"lambda":8186,"flux":1.62},{"lambda":8198,"flux":1.56},{"lambda":8210,"flux":1.6},{"lambda":8222,"flux":1.52},{"lambda":8234,"flux":1.6},{"lambda":8246,"flux":1.54},{"lambda":8258,"flux":1.58},{"lambda":8270,"flux":1.52},{"lambda":8282,"flux":1.56},{"lambda":8294,"flux":1.5},{"lambda":8306,"flux":1.56},{"lambda":8318,"flux":1.5},{"lambda":8330,"flux":1.54},{"lambda":8342,"flux":1.48},{"lambda":8354,"flux":1.56},{"lambda":8366,"flux":1.5},{"lambda":8378,"flux":1.54},{"lambda":8390,"flux":1.48},{"lambda":8400,"flux":1.52},{"lambda":8410,"flux":0.85},{"lambda":8416,"flux":1.45},{"lambda":8421,"flux":0.66},{"lambda":8428,"flux":1.4},{"lambda":8436,"flux":0.28},{"lambda":8441,"flux":1.35},{"lambda":8447,"flux":0.9},{"lambda":8453,"flux":1.4},{"lambda":8460,"flux":0.55},{"lambda":8468,"flux":1.48},{"lambda":8478,"flux":1.5},{"lambda":8490,"flux":1.46},{"lambda":8502,"flux":1.5},{"lambda":8514,"flux":1.44},{"lambda":8526,"flux":1.48},{"lambda":8538,"flux":1.42},{"lambda":8550,"flux":1.46},{"lambda":8562,"flux":1.42},{"lambda":8574,"flux":1.48},{"lambda":8586,"flux":1.44},{"lambda":8598,"flux":1.46},{"lambda":8609,"flux":1.28},{"lambda":8618,"flux":1.46},{"lambda":8630,"flux":1.5},{"lambda":8642,"flux":1.54},{"lambda":8654,"flux":1.52},{"lambda":8666,"flux":1.58},{"lambda":8678,"flux":1.56},{"lambda":8690,"flux":1.62},{"lambda":8702,"flux":1.6},{"lambda":8714,"flux":1.66},{"lambda":8726,"flux":1.64},{"lambda":8738,"flux":1.7},{"lambda":8750,"flux":1.7},{"lambda":8762,"flux":1.68},
{"lambda":8774,"flux":1.72},{"lambda":8786,"flux":1.8},{"lambda":8798,"flux":1.9},{"lambda":8810,"flux":1.98},{"lambda":8822,"flux":2.08},{"lambda":8834,"flux":2.18},{"lambda":8846,"flux":2.3},{"lambda":8856,"flux":2.42},{"lambda":8864,"flux":2.52},{"lambda":8871,"flux":2.6},{"lambda":8878,"flux":2.5},{"lambda":8886,"flux":2.38},{"lambda":8894,"flux":2.3},{"lambda":8902,"flux":2.2},{"lambda":8912,"flux":2.12},{"lambda":8922,"flux":2.04},{"lambda":8932,"flux":2.0},{"lambda":8942,"flux":1.94},{"lambda":8952,"flux":1.92},{"lambda":8962,"flux":1.86},{"lambda":8974,"flux":1.82},{"lambda":8986,"flux":1.76},{"lambda":8998,"flux":1.74},{"lambda":9010,"flux":1.68},{"lambda":9022,"flux":1.66},{"lambda":9034,"flux":1.62},{"lambda":9046,"flux":1.6},{"lambda":9058,"flux":1.62},{"lambda":9070,"flux":1.58},{"lambda":9082,"flux":1.54},{"lambda":9094,"flux":1.5},{"lambda":9106,"flux":1.52},{"lambda":9118,"flux":1.46},{"lambda":9130,"flux":1.5},{"lambda":9142,"flux":1.44},{"lambda":9154,"flux":1.48},{"lambda":9166,"flux":1.42},{"lambda":9178,"flux":1.46},{"lambda":9190,"flux":1.4},{"lambda":9202,"flux":1.44},{"lambda":9214,"flux":1.38},{"lambda":9226,"flux":1.46},{"lambda":9238,"flux":1.4},{"lambda":9250,"flux":1.44},{"lambda":9262,"flux":1.36},{"lambda":9274,"flux":1.42},{"lambda":9286,"flux":1.38},{"lambda":9298,"flux":1.46},{"lambda":9310,"flux":1.4},{"lambda":9322,"flux":1.5},{"lambda":9333,"flux":1.58},{"lambda":9342,"flux":1.36},{"lambda":9352,"flux":1.3},{"lambda":9362,"flux":1.22},{"lambda":9372,"flux":1.18},{"lambda":9382,"flux":1.24},{"lambda":9392,"flux":1.12},{"lambda":9402,"flux":1.18},{"lambda":9412,"flux":1.06},{"lambda":9424,"flux":1.14},{"lambda":9436,"flux":1.02},{"lambda":9448,"flux":1.12},{"lambda":9460,"flux":1.0},{"lambda":9472,"flux":1.26},{"lambda":9480,"flux":1.08},{"lambda":9492,"flux":1.14},{"lambda":9504,"flux":1.02},{"lambda":9516,"flux":1.1},{"lambda":9528,"flux":0.98},{"lambda":9540,"flux":1.08},{"lambda":9552,"flux":1.0},{"lambda":9564,"flux":1.06},{"lambda":9576,"flux":1.12},{"lambda":9588,"flux":0.98},{"lambda":9600,"flux":1.06},{"lambda":9612,"flux":1.0},{"lambda":9624,"flux":1.08},{"lambda":9636,"flux":1.02},{"lambda":9648,"flux":1.1},{"lambda":9660,"flux":1.0},{"lambda":9672,"flux":1.24},{"lambda":9684,"flux":1.02},{"lambda":9696,"flux":1.08},{"lambda":9708,"flux":0.96},{"lambda":9720,"flux":1.06},{"lambda":9732,"flux":0.86},{"lambda":9742,"flux":1.12},{"lambda":9752,"flux":0.92},{"lambda":9762,"flux":1.18},{"lambda":9772,"flux":0.98},{"lambda":9782,"flux":1.08},{"lambda":9792,"flux":0.82},{"lambda":9802,"flux":1.04},{"lambda":9812,"flux":0.94},{"lambda":9822,"flux":1.12},{"lambda":9832,"flux":1.0},{"lambda":9842,"flux":1.18},{"lambda":9852,"flux":0.94},{"lambda":9862,"flux":1.06},{"lambda":9872,"flux":1.2},{"lambda":9880,"flux":1.74},{"lambda":9888,"flux":1.1},{"lambda":9896,"flux":1.7},{"lambda":9904,"flux":1.3},{"lambda":9912,"flux":1.4},{"lambda":9920,"flux":1.0},{"lambda":9928,"flux":1.2},{"lambda":9936,"flux":0.78},{"lambda":9944,"flux":1.16},{"lambda":9952,"flux":0.9},{"lambda":9960,"flux":1.1},{"lambda":9970,"flux":1.24},{"lambda":9980,"flux":1.14},{"lambda":9990,"flux":1.2},{"lambda":10000,"flux":1.12}
]
},
"resolve": {"scale": {"x": "independent", "y": "independent"}, "axis": {"x": "independent", "y": "independent"}},
"layer": [
{
  "data": {"name": "black"},
  "mark": {"type": "line", "color": "#000000", "strokeWidth": 2.2, "interpolate": "step"},
  "encoding": {
    "x": {"field": "lambda", "type": "quantitative", "scale": {"domain": [4000, 10000], "nice": false, "zero": false},
      "axis": {"orient": "bottom", "values": [4000,5000,6000,7000,8000,9000,10000], "format": "d", "ticks": false, "domain": false, "grid": false, "labelFont": "Liberation Sans", "labelFontSize": 49, "labelPadding": 24, "labelFlush": false, "labelOverlap": false, "title": "λ\u00a0\u00a0\u00a0(Å)", "titleFont": "Liberation Sans", "titleFontSize": 48, "titleFontWeight": "normal", "titleY": 109, "titleBaseline": "alphabetic"}},
    "y": {"field": "flux", "type": "quantitative", "scale": {"domain": [0, 13], "nice": false, "zero": false},
      "axis": {"orient": "left", "values": [0,2,4,6,8,10,12], "format": "d", "ticks": false, "domain": false, "grid": false, "labelFont": "Liberation Sans", "labelFontSize": 49, "labelPadding": 16, "labelOffset": {"condition": {"test": "datum.value === 0", "value": -15}, "value": 0}, "labelOverlap": false, "title": null}}
  }
},
{
  "data": {"name": "red"},
  "mark": {"type": "line", "color": "#ff0000", "strokeWidth": 1.8, "interpolate": "step"},
  "encoding": {
    "x": {"field": "lambda", "type": "quantitative", "scale": {"domain": [4000, 10000], "nice": false, "zero": false}, "axis": null},
    "y": {"field": "flux", "type": "quantitative", "scale": {"domain": [0, 13], "nice": false, "zero": false}, "axis": null}
  }
},
{
  "data": {"name": "xmajor"},
  "mark": {"type": "tick", "orient": "vertical", "color": "#000000", "size": 17, "thickness": 3, "opacity": 1},
  "encoding": {
    "x": {"field": "lambda", "type": "quantitative", "scale": {"domain": [4000, 10000], "nice": false, "zero": false}, "axis": null},
    "y": {"datum": 0.196, "type": "quantitative", "scale": {"domain": [0, 13], "nice": false, "zero": false}, "axis": null}
  }
},
{
  "data": {"name": "xmajor"},
  "mark": {"type": "tick", "orient": "vertical", "color": "#000000", "size": 17, "thickness": 3, "opacity": 1},
  "encoding": {
    "x": {"field": "lambda", "type": "quantitative", "scale": {"domain": [4000, 10000], "nice": false, "zero": false}, "axis": null},
    "y": {"datum": 12.804, "type": "quantitative", "scale": {"domain": [0, 13], "nice": false, "zero": false}, "axis": null}
  }
},
{
  "data": {"name": "xminor"},
  "mark": {"type": "tick", "orient": "vertical", "color": "#000000", "size": 9, "thickness": 3, "opacity": 1},
  "encoding": {
    "x": {"field": "lambda", "type": "quantitative", "scale": {"domain": [4000, 10000], "nice": false, "zero": false}, "axis": null},
    "y": {"datum": 0.104, "type": "quantitative", "scale": {"domain": [0, 13], "nice": false, "zero": false}, "axis": null}
  }
},
{
  "data": {"name": "xminor"},
  "mark": {"type": "tick", "orient": "vertical", "color": "#000000", "size": 9, "thickness": 3, "opacity": 1},
  "encoding": {
    "x": {"field": "lambda", "type": "quantitative", "scale": {"domain": [4000, 10000], "nice": false, "zero": false}, "axis": null},
    "y": {"datum": 12.896, "type": "quantitative", "scale": {"domain": [0, 13], "nice": false, "zero": false}, "axis": null}
  }
},
{
  "data": {"name": "ymajor"},
  "mark": {"type": "tick", "orient": "horizontal", "color": "#000000", "size": 17, "thickness": 3, "opacity": 1},
  "encoding": {
    "y": {"field": "flux", "type": "quantitative", "scale": {"domain": [0, 13], "nice": false, "zero": false}, "axis": null},
    "x": {"datum": 4030, "type": "quantitative", "scale": {"domain": [4000, 10000], "nice": false, "zero": false}, "axis": null}
  }
},
{
  "data": {"name": "ymajor"},
  "mark": {"type": "tick", "orient": "horizontal", "color": "#000000", "size": 17, "thickness": 3, "opacity": 1},
  "encoding": {
    "y": {"field": "flux", "type": "quantitative", "scale": {"domain": [0, 13], "nice": false, "zero": false}, "axis": null},
    "x": {"datum": 9970, "type": "quantitative", "scale": {"domain": [4000, 10000], "nice": false, "zero": false}, "axis": null}
  }
},
{
  "data": {"values": [{"lambda": 3716, "flux": 7.47, "lambda2": 4140, "flux2": 7.71}, {"lambda": 3716, "flux": 4.03, "lambda2": 4215, "flux2": 4.03}]},
  "mark": {"type": "rule", "color": "#0a32ff", "strokeWidth": 8, "strokeCap": "butt"},
  "encoding": {
    "x": {"field": "lambda", "type": "quantitative", "scale": {"domain": [4000, 10000], "nice": false, "zero": false}, "axis": null},
    "x2": {"field": "lambda2"},
    "y": {"field": "flux", "type": "quantitative", "scale": {"domain": [0, 13], "nice": false, "zero": false}, "axis": null},
    "y2": {"field": "flux2"}
  }
},
{
  "data": {"values": [{"lambda": 4181, "flux": 7.74}]},
  "mark": {"type": "point", "shape": "M1,0L-1,-0.9L-1,0.9Z", "size": 1225, "angle": -5, "filled": true, "color": "#0a32ff", "opacity": 1, "strokeWidth": 0},
  "encoding": {
    "x": {"field": "lambda", "type": "quantitative", "scale": {"domain": [4000, 10000], "nice": false, "zero": false}, "axis": null},
    "y": {"field": "flux", "type": "quantitative", "scale": {"domain": [0, 13], "nice": false, "zero": false}, "axis": null}
  }
},
{
  "data": {"values": [{"lambda": 4258, "flux": 4.03}]},
  "mark": {"type": "point", "shape": "M1,0L-1,-0.9L-1,0.9Z", "size": 1225, "angle": 0, "filled": true, "color": "#0a32ff", "opacity": 1, "strokeWidth": 0},
  "encoding": {
    "x": {"field": "lambda", "type": "quantitative", "scale": {"domain": [4000, 10000], "nice": false, "zero": false}, "axis": null},
    "y": {"field": "flux", "type": "quantitative", "scale": {"domain": [0, 13], "nice": false, "zero": false}, "axis": null}
  }
},
{
  "data": {"values": [{"lambda": 8849, "flux": 5.6, "lambda2": 8860, "flux2": 3.6}]},
  "mark": {"type": "rule", "color": "#000000", "strokeWidth": 7, "strokeCap": "butt"},
  "encoding": {
    "x": {"field": "lambda", "type": "quantitative", "scale": {"domain": [4000, 10000], "nice": false, "zero": false}, "axis": null},
    "x2": {"field": "lambda2"},
    "y": {"field": "flux", "type": "quantitative", "scale": {"domain": [0, 13], "nice": false, "zero": false}, "axis": null},
    "y2": {"field": "flux2"}
  }
},
{
  "data": {"values": [{"lambda": 8861, "flux": 3.39}]},
  "mark": {"type": "point", "shape": "M1,0L-1,-1L-1,1Z", "size": 1156, "angle": 88, "filled": true, "color": "#000000", "opacity": 1, "strokeWidth": 0},
  "encoding": {
    "x": {"field": "lambda", "type": "quantitative", "scale": {"domain": [4000, 10000], "nice": false, "zero": false}, "axis": null},
    "y": {"field": "flux", "type": "quantitative", "scale": {"domain": [0, 13], "nice": false, "zero": false}, "axis": null}
  }
},
{
  "data": {"values": [{"lambda": 6112, "flux": 10.67, "label": "1719+2549"}]},
  "mark": {"type": "text", "align": "left", "baseline": "alphabetic", "font": "Liberation Sans", "fontSize": 51, "color": "#000000"},
  "encoding": {
    "x": {"field": "lambda", "type": "quantitative", "scale": {"domain": [4000, 10000], "nice": false, "zero": false}, "axis": null},
    "y": {"field": "flux", "type": "quantitative", "scale": {"domain": [0, 13], "nice": false, "zero": false}, "axis": null},
    "text": {"field": "label"}
  }
},
{
  "data": {"values": [{"lambda": 6095, "flux": 9.27, "label": "[Hennawi et al. AJ,"}]},
  "mark": {"type": "text", "align": "left", "baseline": "alphabetic", "font": "DejaVu Sans", "fontSize": 63, "color": "#000000"},
  "encoding": {
    "x": {"field": "lambda", "type": "quantitative", "scale": {"domain": [4000, 10000], "nice": false, "zero": false}, "axis": null},
    "y": {"field": "flux", "type": "quantitative", "scale": {"domain": [0, 13], "nice": false, "zero": false}, "axis": null},
    "text": {"field": "label"}
  }
},
{
  "data": {"values": [{"lambda": 8432, "flux": 9.27, "label": "131"}]},
  "mark": {"type": "text", "align": "center", "baseline": "alphabetic", "font": "DejaVu Sans", "fontWeight": "bold", "fontSize": 62, "color": "#000000"},
  "encoding": {
    "x": {"field": "lambda", "type": "quantitative", "scale": {"domain": [4000, 10000], "nice": false, "zero": false}, "axis": null},
    "y": {"field": "flux", "type": "quantitative", "scale": {"domain": [0, 13], "nice": false, "zero": false}, "axis": null},
    "text": {"field": "label"}
  }
},
{
  "data": {"values": [{"lambda": 9849, "flux": 9.27, "label": ", 1 (2006)]"}]},
  "mark": {"type": "text", "align": "right", "baseline": "alphabetic", "font": "DejaVu Sans", "fontSize": 62, "color": "#000000"},
  "encoding": {
    "x": {"field": "lambda", "type": "quantitative", "scale": {"domain": [4000, 10000], "nice": false, "zero": false}, "axis": null},
    "y": {"field": "flux", "type": "quantitative", "scale": {"domain": [0, 13], "nice": false, "zero": false}, "axis": null},
    "text": {"field": "label"}
  }
}
]
}
